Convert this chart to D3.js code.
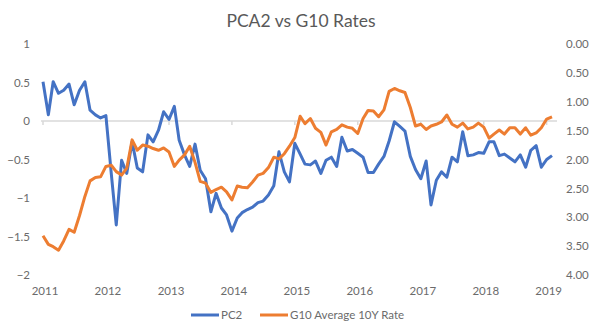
<!DOCTYPE html>
<html>
<head>
<meta charset="utf-8">
<script src="https://cdn.jsdelivr.net/npm/d3@7"></script>
<style>
  body { margin: 0; background: #fff; }
  svg text { font-family: Lato, "Open Sans", sans-serif; fill: #6b6b6b; }
</style>
</head>
<body>
<div id="chart"></div>
<script>
// monthly observations, Jan 2011 .. Feb 2019
const months = d3.timeMonth.range(new Date(2011, 0, 1), new Date(2019, 1, 2));

const pc2 = [
  0.51, 0.08, 0.51, 0.36, 0.40, 0.48, 0.21, 0.40, 0.51, 0.14,
  0.08, 0.04, 0.07, -0.68, -1.35, -0.51, -0.68, -0.27, -0.61, -0.66,
  -0.18, -0.27, -0.12, 0.12, 0.02, 0.19, -0.25, -0.44, -0.59, -0.30,
  -0.64, -0.75, -1.18, -0.94, -1.13, -1.22, -1.43, -1.26, -1.19, -1.15,
  -1.12, -1.06, -1.04, -0.96, -0.84, -0.40, -0.66, -0.79, -0.29, -0.43,
  -0.56, -0.57, -0.52, -0.68, -0.51, -0.47, -0.59, -0.21, -0.39, -0.37,
  -0.42, -0.47, -0.67, -0.67, -0.56, -0.46, -0.26, -0.01, -0.07, -0.13,
  -0.46, -0.63, -0.75, -0.52, -1.09, -0.77, -0.66, -0.73, -0.47, -0.53,
  -0.14, -0.45, -0.44, -0.41, -0.42, -0.27, -0.27, -0.45, -0.43, -0.48,
  -0.53, -0.44, -0.60, -0.38, -0.32, -0.60, -0.50, -0.45
];

const g10Rate = [
  3.32, 3.47, 3.51, 3.57, 3.41, 3.21, 3.26, 2.97, 2.64, 2.37,
  2.31, 2.30, 2.12, 2.10, 2.21, 2.27, 2.15, 1.66, 1.84, 1.75,
  1.77, 1.81, 1.84, 1.80, 1.87, 2.12, 2.01, 1.92, 1.77, 2.05,
  2.38, 2.41, 2.57, 2.52, 2.48, 2.56, 2.70, 2.46, 2.48, 2.49,
  2.39, 2.27, 2.24, 2.14, 1.96, 1.99, 1.90, 1.77, 1.62, 1.25,
  1.38, 1.29, 1.46, 1.53, 1.75, 1.52, 1.48, 1.40, 1.44, 1.46,
  1.55, 1.29, 1.15, 1.16, 1.26, 1.14, 0.82, 0.77, 0.81, 0.84,
  1.10, 1.42, 1.39, 1.48, 1.42, 1.39, 1.35, 1.23, 1.39, 1.44,
  1.37, 1.47, 1.44, 1.37, 1.44, 1.63, 1.56, 1.49, 1.56, 1.45,
  1.45, 1.56, 1.45, 1.58, 1.54, 1.45, 1.30, 1.26
];

const leftTicks = [1, 0.5, 0, -0.5, -1, -1.5, -2];
const rightTicks = [0, 0.5, 1, 1.5, 2, 2.5, 3, 3.5, 4];
const yearLabels = ["2011", "2012", "2013", "2014", "2015", "2016", "2017", "2018", "2019"];

const W = 600, H = 333;
const svg = d3.select("#chart").append("svg")
  .attr("width", W)
  .attr("height", H);

const x = d3.scaleTime()
  .domain([months[0], months[months.length - 1]])
  .range([43, 552]);
const yL = d3.scaleLinear().domain([-2, 1]).range([275, 44]);
const yR = d3.scaleLinear().domain([0, 4]).range([44, 275]);

// title
svg.append("text")
  .attr("x", 301)
  .attr("y", 27)
  .attr("text-anchor", "middle")
  .style("font-size", "17.5px")
  .style("fill", "#595959")
  .text("PCA2 vs G10 Rates");

// left axis labels
const axL = svg.append("g")
  .attr("transform", "translate(30,0)")
  .call(d3.axisLeft(yL).tickValues(leftTicks).tickSize(0).tickPadding(0)
    .tickFormat(d => d3.format("")(d)));
axL.select(".domain").remove();
axL.selectAll("text").style("font-size", "11.5px");

// right axis labels
const axR = svg.append("g")
  .attr("transform", "translate(566,0)")
  .call(d3.axisRight(yR).tickValues(rightTicks).tickSize(0).tickPadding(0)
    .tickFormat(d3.format(".2f")));
axR.select(".domain").remove();
axR.selectAll("text").style("font-size", "11.5px");

// category axis line sits on zero, labels along the bottom
const years = yearLabels.map(s => new Date(+s, 0, 1));
svg.append("line")
  .attr("x1", 41).attr("x2", 557)
  .attr("y1", yL(0)).attr("y2", yL(0))
  .attr("stroke", "#d9d9d9")
  .attr("stroke-width", 1.5);
svg.selectAll(".ytick").data(years).enter().append("line")
  .attr("x1", d => x(d)).attr("x2", d => x(d))
  .attr("y1", yL(0)).attr("y2", yL(0) + 4)
  .attr("stroke", "#d9d9d9")
  .attr("stroke-width", 1.5);

svg.selectAll(".year").data(yearLabels).enter().append("text")
  .attr("x", d => x(new Date(+d, 0, 1)) + 2)
  .attr("y", 295)
  .attr("text-anchor", "middle")
  .style("font-size", "11.5px")
  .text(d => d);

// series
const linePC2 = d3.line()
  .x((d, i) => x(months[i]))
  .y(d => yL(d));
const lineRate = d3.line()
  .x((d, i) => x(months[i]))
  .y(d => yR(d));

svg.append("path")
  .datum(pc2)
  .attr("d", linePC2)
  .attr("fill", "none")
  .attr("stroke", "#4472c4")
  .attr("stroke-width", 3)
  .attr("stroke-linejoin", "round");

svg.append("path")
  .datum(g10Rate)
  .attr("d", lineRate)
  .attr("fill", "none")
  .attr("stroke", "#ed7d31")
  .attr("stroke-width", 3)
  .attr("stroke-linejoin", "round");

// legend
const legend = [
  { name: "PC2", color: "#4472c4", x: 191 },
  { name: "G10 Average 10Y Rate", color: "#ed7d31", x: 260 }
];
const lg = svg.selectAll(".lg").data(legend).enter().append("g")
  .attr("transform", d => `translate(${d.x},315)`);
lg.append("line")
  .attr("x1", 0).attr("x2", 28)
  .attr("stroke", d => d.color)
  .attr("stroke-width", 3);
lg.append("text")
  .attr("x", 30)
  .attr("dy", "0.35em")
  .style("font-size", "11.5px")
  .text(d => d.name);
</script>
</body>
</html>
